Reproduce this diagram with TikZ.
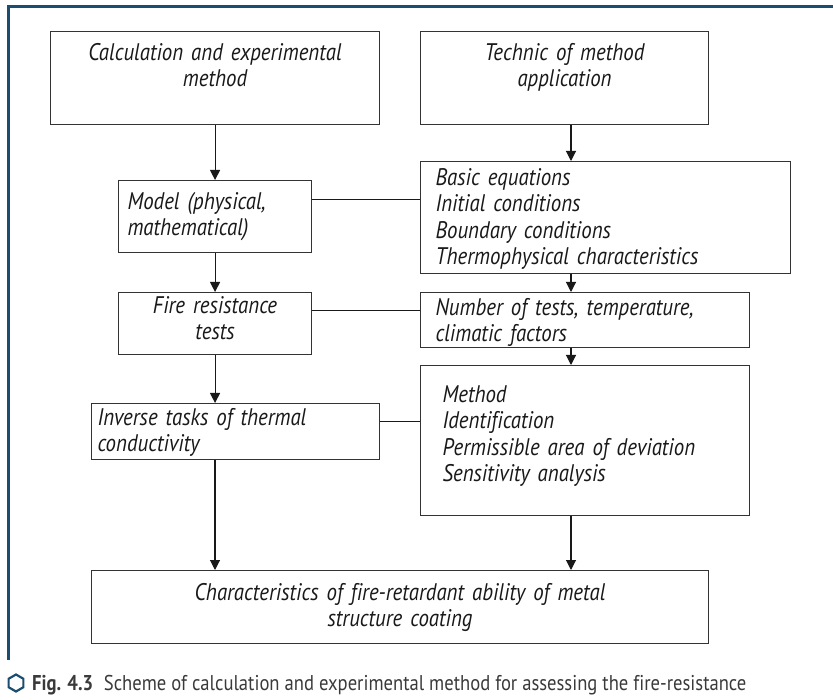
\documentclass[tikz,border=0pt]{standalone}
\usepackage{fontspec}
\setmainfont{PT Sans}[FakeStretch=0.87, Ligatures=NoCommon]
\usepackage{xcolor}
\usetikzlibrary{arrows.meta}
\definecolor{frameblue}{HTML}{1B4D70}
\definecolor{boxline}{HTML}{333333}
\definecolor{captext}{HTML}{3A3A3A}

\begin{document}
\begin{tikzpicture}[x=1pt, y=-1pt,
    box/.style={draw=boxline, line width=1.1pt, inner ysep=0pt,
      font=\fontsize{24}{26.4}\selectfont\itshape, text=black!90},
    arr/.style={draw=black!90, line width=1.1pt, -{Triangle[width=10pt,length=10pt]}},
    link/.style={draw=black!90, line width=1.1pt}]
  \useasboundingbox (0,0) rectangle (833,700);
  % ---------- frame ----------
  \draw[frameblue, line width=2.6pt] (8.5,660) -- (8.5,6.5) -- (833,6.5);
  \coordinate (lc) at (215,0);
  \coordinate (rc) at (571,0);
  % ---------- top row ----------
  \node[box, anchor=north west, text width=309pt, inner xsep=10pt, align=center,
    text height=29pt, text depth=64pt] (calc) at (50,31)
    {Calculation and experimental\\method};
  \node[box, anchor=north west, text width=268pt, inner xsep=10pt, align=center,
    text height=29pt, text depth=64pt] (technic) at (420,31)
    {Technic of method\\application};
  % ---------- left column ----------
  \node[box, anchor=north west, text width=175pt, inner xsep=9pt, align=left,
    text height=29pt, text depth=43pt] (model) at (118,180)
    {Model (physical,\\mathematical)};
  \node[box, anchor=north west, text width=175pt, inner xsep=9pt, align=center,
    text height=21pt, text depth=41pt] (fire) at (118,292)
    {Fire resistance\\tests};
  \node[box, anchor=north west, text width=276pt, inner xsep=6pt, align=left,
    text height=22pt, text depth=34pt] (inverse) at (91,403)
    {Inverse tasks of thermal\\conductivity};
  % ---------- right column ----------
  \node[box, anchor=north west, text width=340pt, inner xsep=15pt, align=left,
    text height=24pt, text depth=88pt] (basic) at (420,161)
    {Basic equations\\Initial conditions\\Boundary conditions\\Thermophysical characteristics};
  \node[box, anchor=north west, text width=299pt, inner xsep=15pt, align=left,
    text height=23pt, text depth=32pt] (number) at (420,292)
    {Number of tests, temperature,\\climatic factors};
  \node[box, anchor=north west, text width=285pt, inner xsep=22pt, align=left,
    text height=37pt, text depth=113pt] (method) at (420,365)
    {Method\\Identification\\Permissible area of deviation\\Sensitivity analysis};
  % ---------- result ----------
  \node[box, anchor=north west, text width=597pt, inner xsep=10pt, align=center,
    text height=30pt, text depth=43pt] (charact) at (91,570)
    {Characteristics of fire-retardant ability of metal\\structure coating};
  % ---------- arrows ----------
  \draw[arr] (calc) -- (model);
  \draw[arr] (model) -- (fire);
  \draw[arr] (fire.south) -- (fire.south |- inverse.north);
  \draw[arr] (inverse.south -| lc) -- (charact.north -| lc);
  \draw[arr] (technic.south -| rc) -- (basic.north -| rc);
  \draw[arr] (basic.south -| rc) -- (number.north -| rc);
  \draw[arr] (number.south -| rc) -- (method.north -| rc);
  \draw[arr] (method.south -| rc) -- (charact.north -| rc);
  \draw[link] ([yshift=17pt]model.east) -- ([yshift=17pt]model.east -| basic.west);
  \draw[link] ([yshift=13pt]fire.east) -- ([yshift=13pt]fire.east -| number.west);
  \draw[link] ([yshift=10pt]inverse.east) -- ([yshift=10pt]inverse.east -| method.west);
  % ---------- caption ----------
  \draw[frameblue, line width=2.2pt] (16,683) +(30:8.5) -- +(90:8.5) -- +(150:8.5)
    -- +(210:8.5) -- +(270:8.5) -- +(330:8.5) -- cycle;
  \node[anchor=base west, inner sep=0pt, text=captext,
    font=\fontsize{21.4}{26}\selectfont] (caption) at (32,690)
    {\textbf{Fig. 4.3}\enspace Scheme of calculation and experimental method for assessing the fire-resistance};
\end{tikzpicture}
\end{document}
